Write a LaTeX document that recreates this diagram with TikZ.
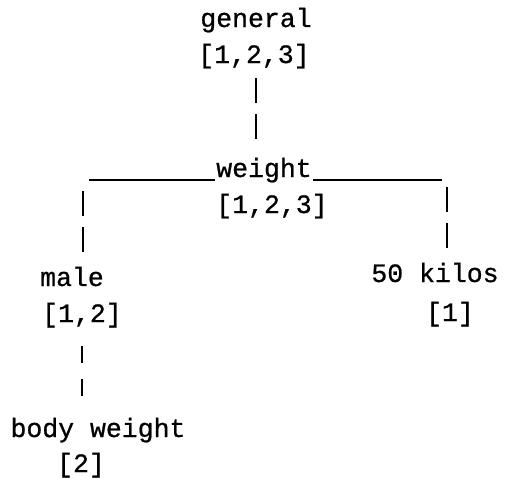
\documentclass[tikz,border=0pt]{standalone}
\usepackage{fontspec}
\setmonofont[FakeBold=0.8]{Liberation Mono}
\begin{document}
\begin{tikzpicture}[x=1pt,y=-1pt,
  lbl/.style={font=\ttfamily\fontsize{26.5}{30}\selectfont, inner sep=0pt, text height=19pt, text depth=6pt, anchor=base},
  barline/.style={line width=2.2pt, dash pattern=on 25pt off 11pt},
  hline/.style={line width=2pt}]
\useasboundingbox (0,0) rectangle (506,477);
\node[lbl] (g)  at (256,27)  {general};
\node[lbl] (gs) at (254,63)  {[1,2,3]};
\node[lbl] (w)  at (264,177) {weight};
\node[lbl] (ws) at (272,213) {[1,2,3]};
\node[lbl] (m)  at (72,286)  {male};
\node[lbl] (ms) at (82,322)  {[1,2]};
\node[lbl] (k)  at (435,282) {50 kilos};
\node[lbl] (ks) at (450,321) {[1]};
\node[lbl] (b)  at (98,437)  {body weight};
\node[lbl] (bs) at (81,472)  {[2]};
% general -> weight
\draw[barline] (gs.south -| g.base) ++(0,9) -- ++(0,62);
% weight -> male
\draw[hline] ([shift={(-1,3)}]w.base west) -- ++(-126,0);
\draw[barline] ([xshift=1pt]ms.north |- m.north) ++(0,-15) -- ++(0,-62);
% weight -> 50 kilos
\draw[hline] ([shift={(1,3)}]w.base east) -- ++(129,0);
\draw[barline] ([xshift=-3pt]ks.north |- k.north) ++(0,-15) -- ++(0,-62);
% male -> body weight
\draw[barline, dash pattern=on 17pt off 16pt] (ms.south) ++(0,18) -- ++(0,53);
\end{tikzpicture}
\end{document}
